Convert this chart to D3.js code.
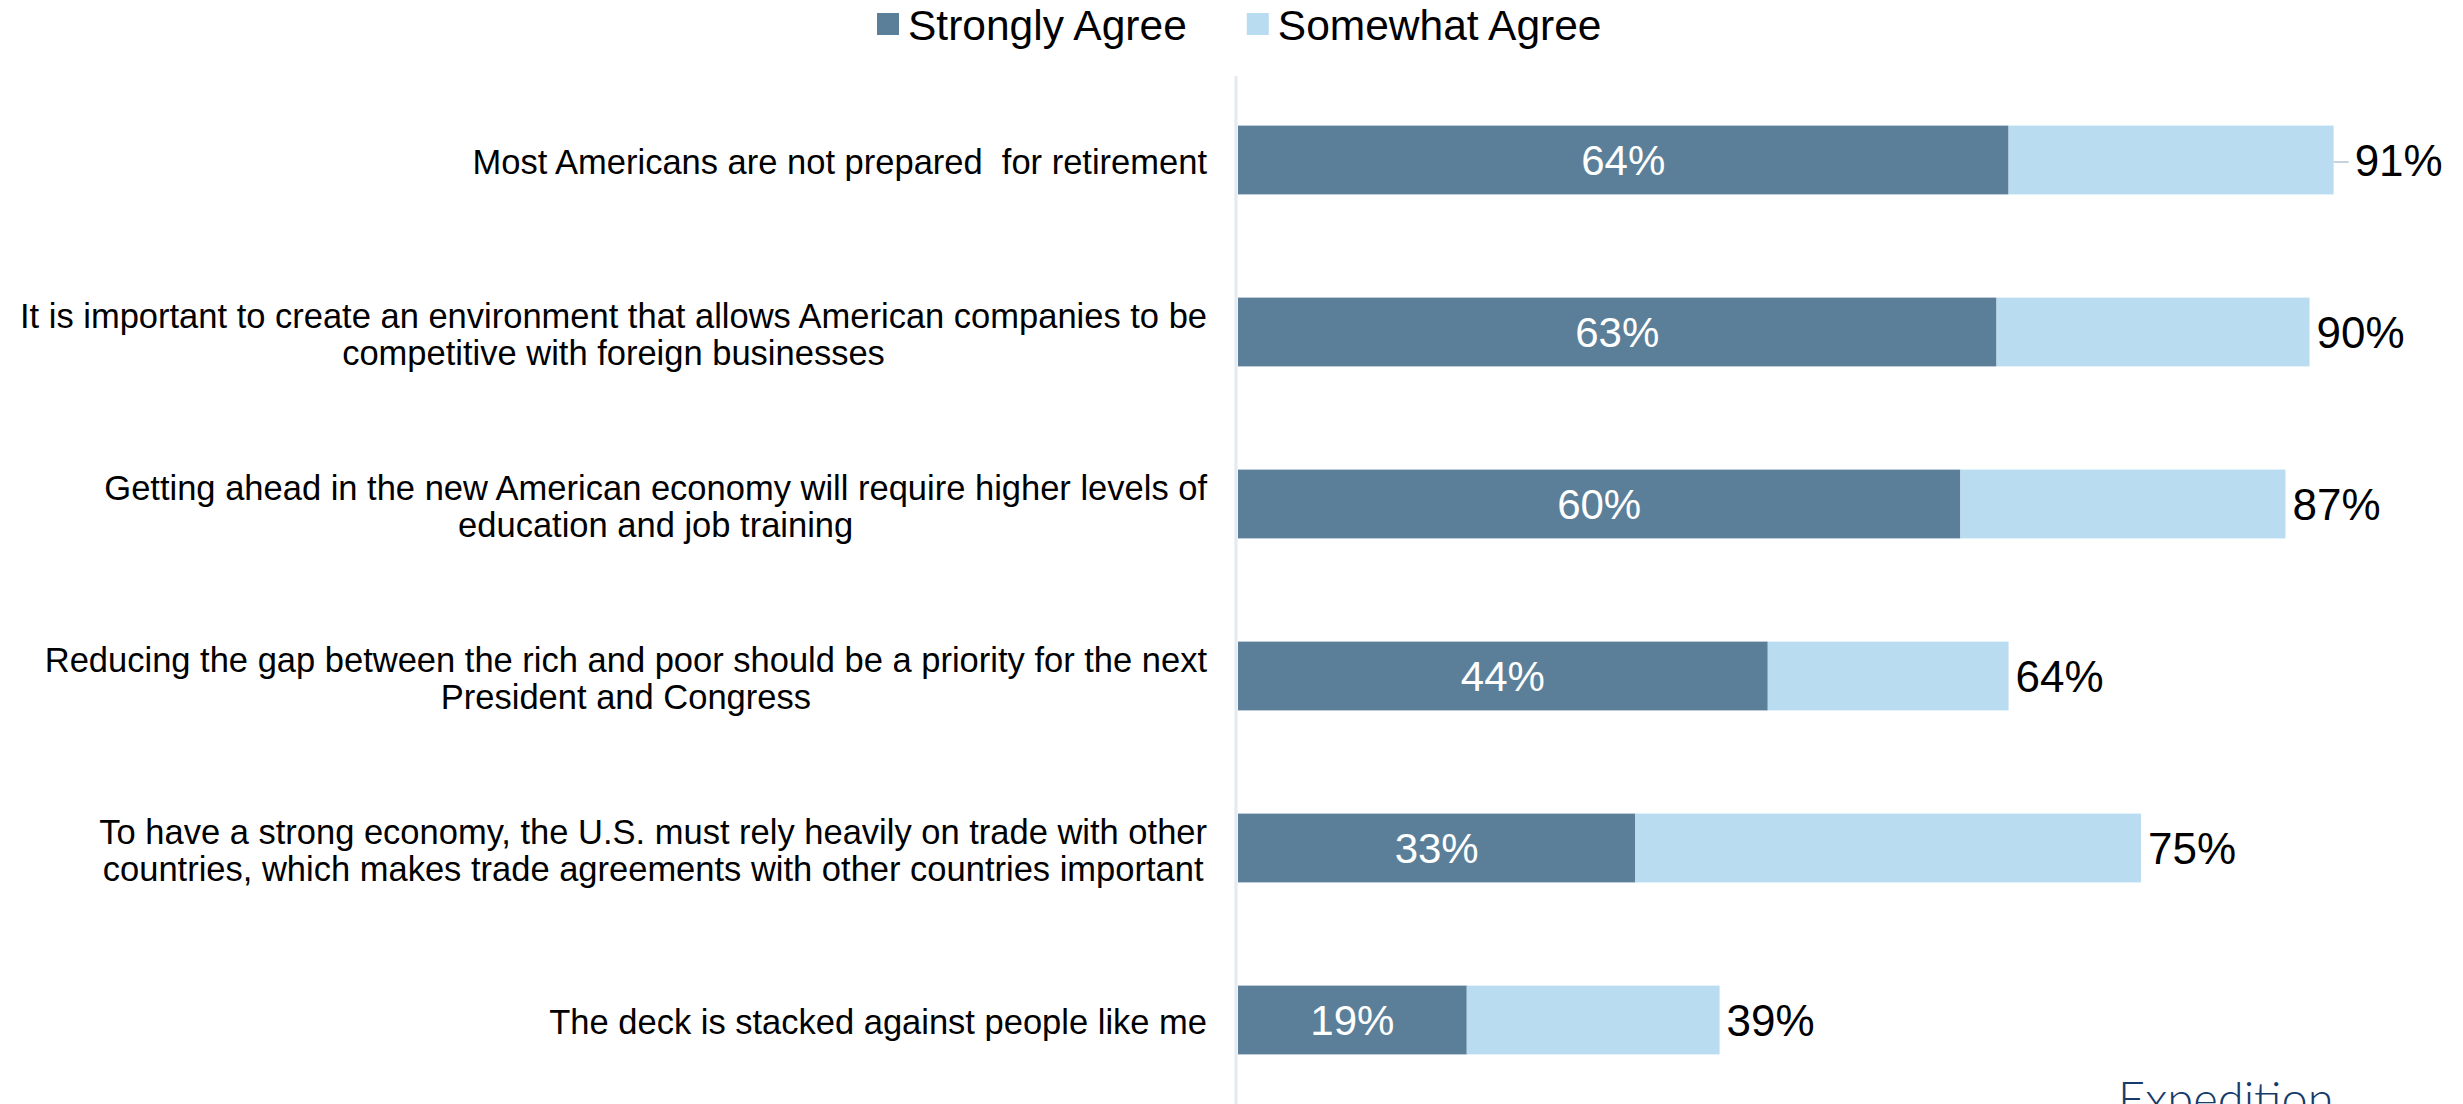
<!DOCTYPE html>
<html>
<head>
<meta charset="utf-8">
<script src="https://d3js.org/d3.v7.min.js"></script>
<style>
  body { margin: 0; background: #fff; }
  svg { display: block; }
  text { font-family: "Liberation Sans", Arial, sans-serif; }
</style>
</head>
<body>
<div class="container"></div>
<script>
const width = 2463;
const height = 1104;

// data
const statements = [
  "Most Americans are not prepared  for retirement",
  "It is important to create an environment that allows American companies to be|competitive with foreign businesses",
  "Getting ahead in the new American economy will require higher levels of|education and job training",
  "Reducing the gap between the rich and poor should be a priority for the next|President and Congress",
  "To have a strong economy, the U.S. must rely heavily on trade with other|countries, which makes trade agreements with other countries important",
  "The deck is stacked against people like me"
];
const stronglyAgree = [64, 63, 60, 44, 33, 19];
const somewhatAgree = [27, 26, 27, 20, 42, 21];
const totalLabels = [91, 90, 87, 64, 75, 39];
const seriesNames = ["Strongly Agree", "Somewhat Agree"];
const colors = ["#5b7f99", "#badcf0"];

const rows = statements.map((s, i) => ({
  label: s, strong: stronglyAgree[i], some: somewhatAgree[i], total: totalLabels[i]
}));

const svg = d3.select(".container")
    .append("svg")
    .attr("width", width)
    .attr("height", height);

const x = d3.scaleLinear().domain([0, 100]).range([1238, 2442]);
const y = d3.scaleBand()
    .domain(d3.range(rows.length))
    .range([74, 1106])
    .paddingInner(0.6)
    .paddingOuter(0.3);

// axis line
svg.append("line")
    .attr("x1", x(0) - 2).attr("x2", x(0) - 2)
    .attr("y1", 76).attr("y2", height)
    .attr("stroke", "#e4eaf0")
    .attr("stroke-width", 3);

const g = svg.selectAll(".row")
    .data(rows)
    .join("g")
    .attr("class", "row")
    .attr("transform", (d, i) => `translate(0,${y(i)})`);

g.append("rect")
    .attr("x", x(0))
    .attr("width", d => x(d.strong) - x(0))
    .attr("height", y.bandwidth())
    .attr("fill", colors[0]);

g.append("rect")
    .attr("x", d => x(d.strong))
    .attr("width", d => x(d.strong + d.some) - x(d.strong))
    .attr("height", y.bandwidth())
    .attr("fill", colors[1]);

// value inside dark segment
g.append("text")
    .attr("x", d => (x(0) + x(d.strong)) / 2)
    .attr("y", y.bandwidth() / 2)
    .attr("dy", "0.36em")
    .attr("text-anchor", "middle")
    .attr("fill", "#fff")
    .style("font-size", "42px")
    .text(d => d.strong + "%");

// total labels
g.append("text")
    .attr("x", (d, i) => x(d.strong + d.some) + (i === 0 ? 21 : 7))
    .attr("y", y.bandwidth() / 2)
    .attr("dy", "0.36em")
    .attr("fill", "#000")
    .style("font-size", "44px")
    .text(d => d.total + "%");

// little leader line on the first one
g.filter((d, i) => i === 0).append("line")
    .attr("x1", d => x(d.strong + d.some))
    .attr("x2", d => x(d.strong + d.some) + 15)
    .attr("y1", y.bandwidth() / 2 + 2)
    .attr("y2", y.bandwidth() / 2 + 2)
    .attr("stroke", "#c6d3df")
    .attr("stroke-width", 2);

// category labels: block right aligned, lines centered in block
const labelRight = 1207;
const lineH = 37;
g.each(function(d) {
  const lines = d.label.split("|");
  const lg = d3.select(this).append("g");
  const texts = lines.map((ln, k) => lg.append("text")
      .attr("y", y.bandwidth() / 2 + 2 + (k - (lines.length - 1) / 2) * lineH)
      .attr("dy", "0.36em")
      .attr("text-anchor", "middle")
      .style("font-size", "34.5px")
      .style("white-space", "pre")
      .attr("xml:space", "preserve")
      .text(ln));
  const w = d3.max(texts, t => t.node().getComputedTextLength());
  texts.forEach(t => t.attr("x", labelRight - w / 2));
});

// legend
let lx = 877;
seriesNames.forEach((name, i) => {
  svg.append("rect")
      .attr("x", lx).attr("y", 13)
      .attr("width", 22).attr("height", 22)
      .attr("fill", colors[i]);
  const t = svg.append("text")
      .attr("x", lx + 31).attr("y", 25)
      .attr("dy", "0.36em")
      .style("font-size", "42.5px")
      .text(name);
  lx += 31 + t.node().getComputedTextLength() + 60;
});

// logo text, cut off at bottom like the reference
svg.append("text")
    .attr("x", 2118)
    .attr("y", 1116)
    .attr("fill", "#163a6a")
    .style("font-family", "Lato, 'Open Sans', sans-serif")
    .style("font-weight", 300)
    .style("font-size", "47px")
    .text("Expedition");
</script>
</body>
</html>
